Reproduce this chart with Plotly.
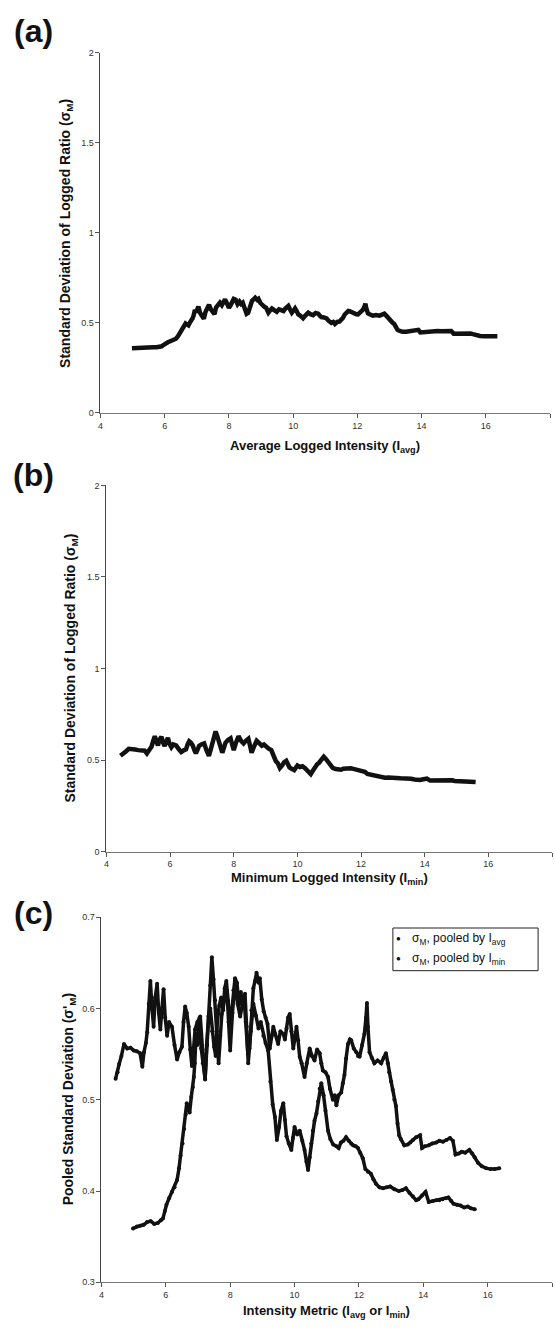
import plotly.graph_objects as go

# Rolling standard deviation of the logged ratio, pooled by average logged intensity
avg_x = [4.98, 5.10, 5.20, 5.31, 5.42, 5.53, 5.64, 5.75, 5.85, 5.91, 5.97, 6.02, 6.10, 6.19,
         6.27, 6.35, 6.41, 6.46, 6.52, 6.57, 6.62, 6.65, 6.70, 6.74, 6.79, 6.84, 6.87, 6.90,
         6.94, 6.98, 7.02, 7.05, 7.10, 7.15, 7.22, 7.27, 7.33, 7.38, 7.44, 7.50, 7.55, 7.60,
         7.66, 7.72, 7.78, 7.83, 7.88, 7.94, 8.00, 8.05, 8.10, 8.15, 8.21, 8.27, 8.33, 8.38,
         8.43, 8.48, 8.55, 8.60, 8.66, 8.72, 8.77, 8.82, 8.88, 8.92, 8.98, 9.04, 9.10, 9.16,
         9.23, 9.29, 9.34, 9.40, 9.49, 9.56, 9.65, 9.70, 9.75, 9.80, 9.85, 9.90, 9.96, 10.01,
         10.06, 10.11, 10.16, 10.22, 10.31, 10.38, 10.47, 10.54, 10.62, 10.70, 10.78, 10.83,
         10.88, 10.96, 11.04, 11.10, 11.19, 11.25, 11.30, 11.37, 11.45, 11.50, 11.55, 11.60,
         11.66, 11.72, 11.76, 11.84, 11.92, 11.97, 12.02, 12.10, 12.17, 12.22, 12.25, 12.28,
         12.33, 12.40, 12.48, 12.58, 12.69, 12.77, 12.84, 12.90, 12.94, 13.00, 13.05, 13.10,
         13.15, 13.20, 13.25, 13.30, 13.41, 13.52, 13.60, 13.68, 13.78, 13.90, 13.96, 14.05,
         14.17, 14.28, 14.40, 14.50, 14.61, 14.72, 14.83, 14.92, 15.00, 15.10, 15.20, 15.30,
         15.43, 15.52, 15.60, 15.70, 15.82, 15.95, 16.09, 16.22, 16.36]
avg_sd = [0.359, 0.361, 0.362, 0.363, 0.366, 0.367, 0.364, 0.365, 0.368, 0.370, 0.378, 0.385,
          0.392, 0.399, 0.404, 0.412, 0.425, 0.439, 0.452, 0.468, 0.484, 0.496, 0.490, 0.486,
          0.503, 0.514, 0.525, 0.540, 0.572, 0.560, 0.585, 0.590, 0.556, 0.540, 0.523, 0.560,
          0.592, 0.600, 0.575, 0.558, 0.548, 0.585, 0.603, 0.612, 0.598, 0.622, 0.630, 0.608,
          0.583, 0.597, 0.620, 0.633, 0.628, 0.604, 0.618, 0.605, 0.612, 0.585, 0.550, 0.556,
          0.598, 0.622, 0.630, 0.639, 0.628, 0.633, 0.610, 0.597, 0.590, 0.583, 0.556, 0.570,
          0.580, 0.572, 0.561, 0.575, 0.572, 0.566, 0.578, 0.590, 0.594, 0.575, 0.556, 0.567,
          0.580, 0.565, 0.547, 0.540, 0.525, 0.540, 0.556, 0.548, 0.543, 0.555, 0.551, 0.540,
          0.532, 0.530, 0.525, 0.512, 0.500, 0.505, 0.494, 0.505, 0.508, 0.518, 0.527, 0.545,
          0.561, 0.566, 0.565, 0.556, 0.552, 0.548, 0.547, 0.560, 0.572, 0.590, 0.606, 0.580,
          0.552, 0.546, 0.540, 0.543, 0.540, 0.546, 0.551, 0.540, 0.530, 0.520, 0.511, 0.500,
          0.493, 0.474, 0.461, 0.457, 0.450, 0.451, 0.453, 0.456, 0.459, 0.461, 0.447, 0.449,
          0.450, 0.452, 0.453, 0.455, 0.454, 0.456, 0.458, 0.455, 0.440, 0.441, 0.443, 0.442,
          0.445, 0.441, 0.437, 0.431, 0.427, 0.425, 0.424, 0.424, 0.425]

# Rolling standard deviation of the logged ratio, pooled by minimum logged intensity
min_x = [4.44, 4.50, 4.55, 4.62, 4.70, 4.80, 4.90, 5.00, 5.10, 5.20, 5.27, 5.32, 5.38, 5.42,
         5.47, 5.52, 5.57, 5.62, 5.67, 5.73, 5.78, 5.83, 5.88, 5.93, 5.98, 6.04, 6.10, 6.19,
         6.27, 6.35, 6.42, 6.50, 6.55, 6.60, 6.65, 6.71, 6.76, 6.81, 6.86, 6.91, 6.98, 7.07,
         7.14, 7.22, 7.28, 7.33, 7.38, 7.43, 7.48, 7.53, 7.58, 7.64, 7.69, 7.74, 7.82, 7.90,
         7.95, 8.00, 8.07, 8.15, 8.23, 8.31, 8.38, 8.46, 8.51, 8.56, 8.64, 8.72, 8.80, 8.88,
         8.95, 9.03, 9.10, 9.18, 9.25, 9.32, 9.39, 9.45, 9.52, 9.58, 9.65, 9.70, 9.75, 9.82,
         9.90, 9.95, 10.00, 10.08, 10.16, 10.24, 10.31, 10.37, 10.42, 10.47, 10.52, 10.57,
         10.62, 10.68, 10.73, 10.78, 10.83, 10.90, 10.96, 11.04, 11.11, 11.20, 11.30, 11.37,
         11.44, 11.52, 11.60, 11.68, 11.76, 11.82, 11.90, 11.97, 12.04, 12.12, 12.20, 12.28,
         12.37, 12.45, 12.53, 12.64, 12.75, 12.86, 12.97, 13.10, 13.24, 13.35, 13.46, 13.57,
         13.68, 13.78, 13.85, 13.96, 14.07, 14.17, 14.30, 14.40, 14.50, 14.60, 14.70, 14.78,
         14.87, 14.94, 15.05, 15.16, 15.27, 15.38, 15.48, 15.60]
min_sd = [0.523, 0.530, 0.539, 0.548, 0.561, 0.556, 0.557, 0.554, 0.553, 0.551, 0.536, 0.552,
          0.562, 0.574, 0.605, 0.630, 0.600, 0.580, 0.612, 0.627, 0.595, 0.577, 0.600, 0.621,
          0.590, 0.570, 0.585, 0.580, 0.560, 0.544, 0.552, 0.558, 0.585, 0.602, 0.595, 0.580,
          0.555, 0.537, 0.555, 0.577, 0.585, 0.591, 0.555, 0.522, 0.560, 0.591, 0.625, 0.656,
          0.632, 0.609, 0.575, 0.540, 0.570, 0.594, 0.610, 0.619, 0.585, 0.554, 0.595, 0.630,
          0.605, 0.591, 0.605, 0.616, 0.580, 0.540, 0.575, 0.605, 0.592, 0.578, 0.585, 0.570,
          0.562, 0.554, 0.520, 0.495, 0.481, 0.456, 0.470, 0.488, 0.496, 0.478, 0.460, 0.452,
          0.445, 0.458, 0.470, 0.462, 0.466, 0.455, 0.445, 0.432, 0.423, 0.437, 0.452, 0.466,
          0.477, 0.485, 0.498, 0.512, 0.518, 0.505, 0.488, 0.466, 0.457, 0.451, 0.449, 0.447,
          0.453, 0.455, 0.459, 0.455, 0.452, 0.450, 0.449, 0.447, 0.442, 0.436, 0.424, 0.421,
          0.419, 0.413, 0.408, 0.404, 0.403, 0.404, 0.405, 0.402, 0.400, 0.401, 0.403, 0.398,
          0.394, 0.390, 0.391, 0.395, 0.399, 0.388, 0.389, 0.390, 0.390, 0.391, 0.392, 0.393,
          0.389, 0.386, 0.385, 0.384, 0.382, 0.383, 0.381, 0.380]

x_ticks = [4, 6, 8, 10, 12, 14, 16, 18]
y_ticks_full = [0, 0.5, 1, 1.5, 2]
y_labels_full = ["0", "0.5", "1", "1.5", "2"]
y_ticks_zoom = [0.3, 0.4, 0.5, 0.6, 0.7]
y_labels_zoom = ["0.3", "0.4", "0.5", "0.6", "0.7"]
legend_labels = ["σ<sub>M</sub>, pooled by I<sub>avg</sub>",
                 "σ<sub>M</sub>, pooled by I<sub>min</sub>"]

W, H = 555, 1329
INK = "#111111"
FONT = "Liberation Sans, Arial, sans-serif"


def px_x(p):
    return p / W


def px_y(p):
    return 1 - p / H


fig = go.Figure()

line_ab = dict(color=INK, width=4.5)
line_c = dict(color=INK, width=3.5)

fig.add_trace(go.Scatter(x=avg_x, y=avg_sd, mode="lines", line=line_ab,
                         xaxis="x", yaxis="y", showlegend=False))
fig.add_trace(go.Scatter(x=min_x, y=min_sd, mode="lines", line=line_ab,
                         xaxis="x2", yaxis="y2", showlegend=False))
fig.add_trace(go.Scatter(x=avg_x, y=avg_sd, mode="lines+markers", line=line_c,
                         marker=dict(color=INK, size=4),
                         xaxis="x3", yaxis="y3", showlegend=False))
fig.add_trace(go.Scatter(x=min_x, y=min_sd, mode="lines+markers", line=line_c,
                         marker=dict(color=INK, size=4),
                         xaxis="x3", yaxis="y3", showlegend=False))

tick_font = dict(family=FONT, size=9, color="#333333")


def xaxis(dom, anchor):
    return dict(domain=dom, anchor=anchor, range=[4, 18], tickvals=x_ticks,
                ticks="outside", ticklen=4, tickcolor="#555", tickwidth=1,
                showline=True, linecolor="#777", linewidth=1, showgrid=False,
                zeroline=False, tickfont=tick_font, fixedrange=True)


def yaxis(dom, anchor, rng, vals, labels):
    return dict(domain=dom, anchor=anchor, range=rng, tickvals=vals, ticktext=labels,
                ticks="outside", ticklen=4, tickcolor="#555", tickwidth=1,
                showline=True, linecolor="#444", linewidth=1, showgrid=False,
                zeroline=False, tickfont=tick_font, fixedrange=True)


fig.update_layout(
    width=W, height=H, margin=dict(l=0, r=0, t=0, b=0),
    paper_bgcolor="white", plot_bgcolor="white",
    xaxis=xaxis([px_x(98), px_x(550)], "y"),
    yaxis=yaxis([px_y(411), px_y(48)], "x", [0, 2], y_ticks_full, y_labels_full),
    xaxis2=xaxis([px_x(104), px_x(552)], "y2"),
    yaxis2=yaxis([px_y(853), px_y(484)], "x2", [0, 2], y_ticks_full, y_labels_full),
    xaxis3=xaxis([px_x(99), px_x(552)], "y3"),
    yaxis3=yaxis([px_y(1287), px_y(919)], "x3", [0.3, 0.7], y_ticks_zoom, y_labels_zoom),
    showlegend=False,
)

xtitle_font = dict(family=FONT, size=13, color=INK)
ytitle_font = dict(family=FONT, size=14, color=INK)
ann = []


def note(text, xp, yp, font, angle=0, xanchor="center"):
    ann.append(dict(text=text, x=px_x(xp), y=px_y(yp), xref="paper", yref="paper",
                    xanchor=xanchor, yanchor="middle", showarrow=False,
                    textangle=angle, font=font))


# panel letters
for letter, yp in [("(a)", 26), ("(b)", 474), ("(c)", 915)]:
    note(f"<b>{letter}</b>", 31, yp, dict(family=FONT, size=32, color=INK))
# x-axis titles
for txt, xp, yp in [("Average Logged Intensity (I<sub>avg</sub>)", 324, 445),
                    ("Minimum Logged Intensity (I<sub>min</sub>)", 328, 880),
                    ("Intensity Metric (I<sub>avg</sub> or I<sub>min</sub>)", 325, 1316)]:
    note(f"<b>{txt}</b>", xp, yp, xtitle_font)
# y-axis titles
for txt, xp, yp in [("Standard Deviation of Logged Ratio (σ<sub>M</sub>)", 64, 230),
                    ("Standard Deviation of Logged Ratio (σ<sub>M</sub>)", 68, 668),
                    ("Pooled Standard Deviation (σ'<sub>M</sub>)", 66, 1103)]:
    note(f"<b>{txt}</b>", xp, yp, ytitle_font, angle=-90)

# legend box for the pooled panel
legend_font = dict(family=FONT, size=12, color=INK)
for i, lab in enumerate(legend_labels):
    yp = 941 + i * 20
    note("●", 398, yp, dict(family=FONT, size=8, color=INK))
    note(lab, 409, yp, legend_font, xanchor="left")

fig.update_layout(
    annotations=ann,
    shapes=[dict(type="rect", xref="paper", yref="paper",
                 x0=px_x(392), x1=px_x(538), y0=px_y(973), y1=px_y(930),
                 line=dict(color="#222", width=1), fillcolor="white", layer="below")],
)

fig.write_html("out.html")
